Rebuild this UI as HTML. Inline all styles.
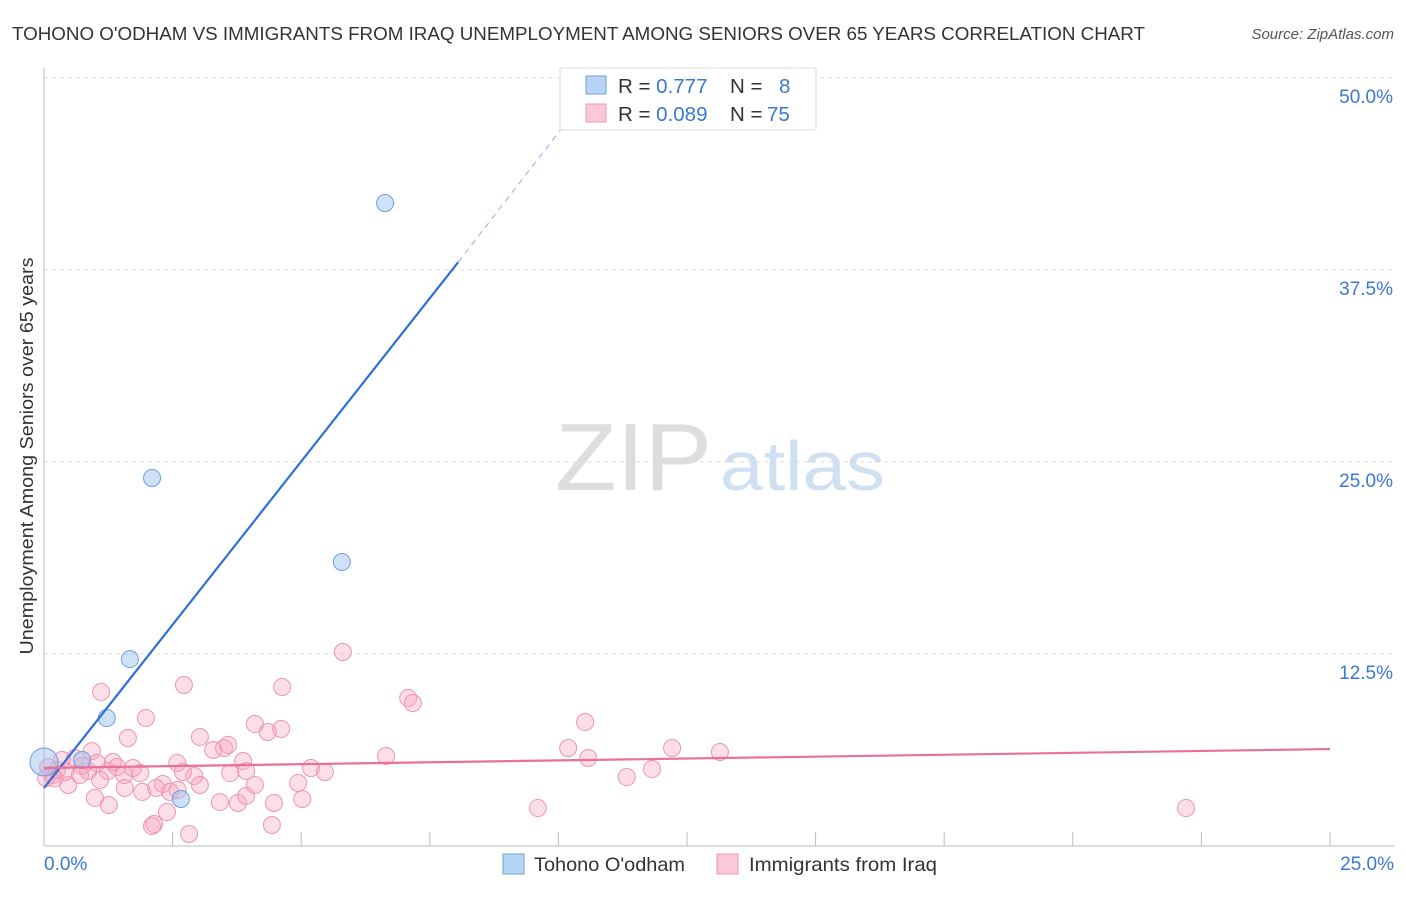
<!DOCTYPE html>
<html><head><meta charset="utf-8"><style>
body{margin:0;background:#fff;font-family:"Liberation Sans",sans-serif;}
svg text{font-family:"Liberation Sans",sans-serif;}
</style></head><body>
<svg id="c" width="1406" height="892">
<text x="12" y="40" font-size="18" fill="#333" textLength="1133" lengthAdjust="spacingAndGlyphs">TOHONO O'ODHAM VS IMMIGRANTS FROM IRAQ UNEMPLOYMENT AMONG SENIORS OVER 65 YEARS CORRELATION CHART</text>
<text x="1394" y="39" font-size="15" fill="#555" text-anchor="end" font-style="italic">Source: ZipAtlas.com</text>
<text x="555" y="490" font-size="96" fill="#ddd" textLength="157" lengthAdjust="spacingAndGlyphs" font-family="Liberation Serif">ZIP</text>
<text x="720" y="490" font-size="70" fill="#cfe0f3" textLength="165" lengthAdjust="spacingAndGlyphs">atlas</text>
<text transform="translate(33,456) rotate(-90)" font-size="18" fill="#333" text-anchor="middle" textLength="397" lengthAdjust="spacingAndGlyphs">Unemployment Among Seniors over 65 years</text>
<g id="grid"></g><g id="pts"></g><g id="lines"></g>
<g>
<rect x="560" y="68" width="256" height="62" fill="#fff" stroke="#ddd"/>
<rect x="586" y="76" width="20" height="18" fill="#b8d4f5" stroke="#6fa0dc"/>
<rect x="586" y="104" width="20" height="18" fill="#fbc8d8" stroke="#ef94b2"/>
<text x="618" y="93" font-size="20.5" fill="#333">R = <tspan fill="#3b78d0">0.777</tspan><tspan x="730">N = </tspan><tspan x="779" fill="#3b78d0">8</tspan></text>
<text x="618" y="121" font-size="20.5" fill="#333">R = <tspan fill="#3b78d0">0.089</tspan><tspan x="730">N = </tspan><tspan x="767" fill="#3b78d0">75</tspan></text>
</g>
<g>
<rect x="503" y="854" width="21" height="20" fill="#b8d4f5" stroke="#6fa0dc"/>
<text x="534" y="871" font-size="19.5" fill="#333" textLength="151" lengthAdjust="spacingAndGlyphs">Tohono O'odham</text>
<rect x="717" y="854" width="21" height="20" fill="#fbc8d8" stroke="#ef94b2"/>
<text x="749" y="871" font-size="19.5" fill="#333" textLength="188" lengthAdjust="spacingAndGlyphs">Immigrants from Iraq</text>
</g>
</svg>
<script>
const xTicksLabels=["0.0%","25.0%"];
const yTicks=[12.5,25,37.5,50];
const blueX=[1.22,1.67,2.10,2.66,5.79,6.63,0.0,0.74];
const blueY=[8.33,12.17,23.96,3.06,18.49,41.86,5.47,5.60];
const pinkX=[5.81,2.72,1.11,4.63,1.98,7.08,7.17,10.52,4.10,4.61,1.63,3.03,4.35,3.50,3.58,3.29,0.93,2.59,3.87,6.65,10.19,10.58,12.21,13.14,11.82,11.33,5.19,5.46,3.62,4.94,2.92,2.70,2.31,2.18,1.91,1.73,1.42,1.56,1.24,0.74,0.86,1.09,0.47,0.16,0.25,0.08,0.35,0.99,1.26,1.57,3.03,3.42,3.77,3.93,4.10,4.47,5.02,2.39,2.14,2.10,2.82,4.43,9.60,22.20,2.60,1.87,0.60,1.03,1.34,0.41,0.04,3.93,0.70,2.45,0.2];
const pinkY=[12.63,10.48,10.03,10.35,8.33,9.64,9.31,8.07,7.94,7.62,7.03,7.10,7.42,6.38,6.58,6.25,6.18,5.40,5.53,5.86,6.38,5.73,6.38,6.12,5.01,4.49,5.08,4.82,4.75,4.10,4.56,4.82,4.04,3.78,3.52,5.08,5.14,4.62,4.88,5.21,4.88,4.30,3.97,4.62,4.95,5.14,5.60,3.13,2.67,3.78,3.97,2.86,2.80,3.26,3.97,2.80,3.06,2.21,1.43,1.30,0.78,1.37,2.47,2.47,3.65,4.75,5.73,5.40,5.47,4.82,4.43,4.88,4.62,3.52,4.4];
const blueLine=[[0,3.78],[8.05,38.0]], blueDash=[[8.05,38.0],[10.5,48.6]];
const pinkLine=[[0,5.08],[25,6.31]];
const X=v=>44+v/25*1286, Y=v=>846-v/12.5*192;
const NS="http://www.w3.org/2000/svg";
function mk(p,t,a){const e=document.createElementNS(NS,t);for(const k in a)e.setAttribute(k,a[k]);p.appendChild(e);return e;}
const g=document.getElementById('grid');
yTicks.forEach(t=>{const l=mk(g,'line',{x1:44,x2:1394,y1:Y(t),y2:Y(t),stroke:'#ddd','stroke-dasharray':'4,4'});

const tx=mk(g,'text',{x:1393,y:Y(t)+25,'font-size':19,fill:'#3b78d0','text-anchor':'end'});tx.textContent=t.toFixed(1)+'%';
});
const ax=mk(g,'line',{x1:44,x2:44,y1:68,y2:846,stroke:'#bbb'});
const bx=mk(g,'line',{x1:44,x2:1394,y1:846,y2:846,stroke:'#bbb'});
for(let i=1;i<=10;i++){const t=mk(g,'line',{x1:X(i*2.5),x2:X(i*2.5),y1:832,y2:846,stroke:'#bbb'});}
[[0,'start',44],[1,'end',1394]].forEach(([i,a,x])=>{const t=mk(g,'text',{x:x,y:870,'font-size':19,fill:'#3b78d0','text-anchor':a});t.textContent=xTicksLabels[i];});
const p=document.getElementById('pts');
pinkX.forEach((v,i)=>{const c=mk(p,'circle',{cx:X(v),cy:Y(pinkY[i]),r:8.5,fill:'rgba(245,160,190,0.35)',stroke:'#ef94b2','stroke-width':1});
});
blueX.forEach((v,i)=>{const c=mk(p,'circle',{cx:X(v),cy:Y(blueY[i]),r:i==6?14:8.5,fill:'rgba(160,196,240,0.5)',stroke:'#6fa0dc','stroke-width':1});
});
const L=document.getElementById('lines');
let e=mk(L,'line',{x1:X(blueLine[0][0]),y1:Y(blueLine[0][1]),x2:X(blueLine[1][0]),y2:Y(blueLine[1][1]),stroke:'#2f6fd6','stroke-width':2.2});

e=mk(L,'line',{x1:X(blueDash[0][0]),y1:Y(blueDash[0][1]),x2:X(blueDash[1][0]),y2:Y(blueDash[1][1]),stroke:'#8fb0e0','stroke-width':1,'stroke-dasharray':'6,5'});

e=mk(L,'line',{x1:X(pinkLine[0][0]),y1:Y(pinkLine[0][1]),x2:X(pinkLine[1][0]),y2:Y(pinkLine[1][1]),stroke:'#e8709a','stroke-width':2.2});

</script>
</body></html>
